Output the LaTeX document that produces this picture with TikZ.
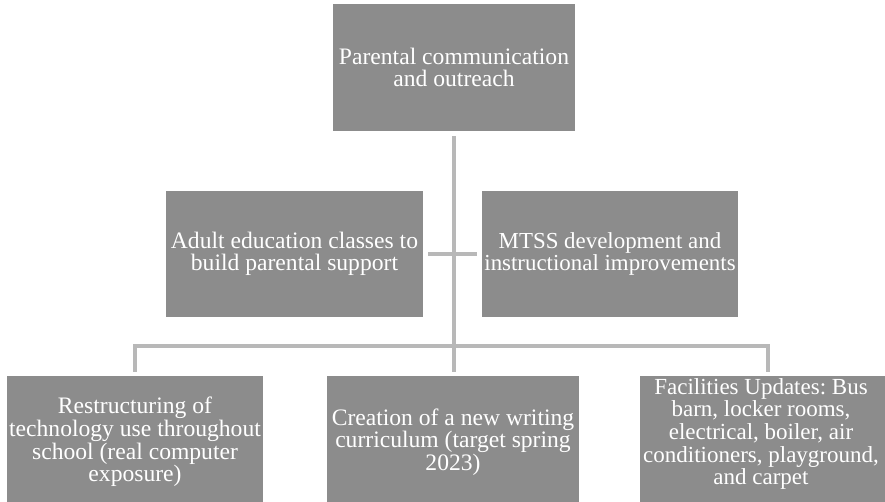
\documentclass[tikz,border=0pt]{standalone}
\usepackage{fontspec}
\setmainfont{Liberation Serif}
\frenchspacing
\definecolor{boxgray}{HTML}{8C8C8C}
\definecolor{linegray}{HTML}{B8B8B8}
\tikzset{
  box/.style={fill=boxgray, text=white, align=center, inner sep=0pt,
    font=\fontsize{23.6}{22.6}\selectfont},
  conn/.style={draw=linegray, line width=3.2pt, line join=miter}
}
\begin{document}
\begin{tikzpicture}[x=1pt,y=-1pt]
\useasboundingbox (0,0) rectangle (885,501);
\clip (0,0) rectangle (885,501);
\node[box, minimum width=242pt, minimum height=127pt] (top) at (454,67.5) {Parental communication\\and outreach};
\node[box, minimum width=257pt, minimum height=126pt] (ml) at (294.5,254) {Adult education classes to\\build parental support};
\node[box, minimum width=256pt, minimum height=126pt, font=\fontsize{22.9}{22.6}\selectfont] (mr) at (610,254) {MTSS development and\\instructional improvements};
\node[box, minimum width=256pt, minimum height=132pt] (bl) at (135,442) {Restructuring of\\technology use throughout\\school (real computer\\exposure)};
\node[box, minimum width=252pt, minimum height=132pt] (bm) at (453,442) {Creation of a new writing\\curriculum (target spring\\2023)};
\node[box, minimum width=256pt, minimum height=132pt] (br) at (768,442) {};
\node[box, fill=none, font=\fontsize{23}{22.6}\selectfont] (brt) at (761,434) {Facilities Updates: Bus\\barn, locker rooms,\\electrical, boiler, air\\conditioners, playground,\\and carpet};
\coordinate (hub) at (454,346);
\draw[conn, shorten <=5pt, shorten >=4pt] (top.south) -- (top.south |- bm.north);
\draw[conn, shorten <=5pt, shorten >=5pt] (ml.east) -- (mr.west);
\draw[conn] ([yshift=4pt]bl.north) -- (bl.north |- hub) -- (br.north |- hub) -- ([yshift=4pt]br.north);
\end{tikzpicture}
\end{document}
